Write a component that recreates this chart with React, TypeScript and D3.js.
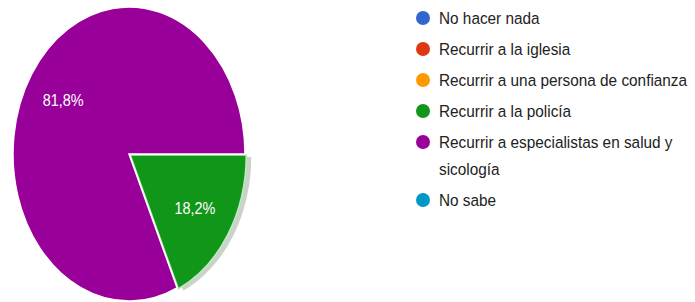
import * as d3 from "d3";
import { useEffect, useRef } from "react";

const categories = [
  "No hacer nada",
  "Recurrir a la iglesia",
  "Recurrir a una persona de confianza",
  "Recurrir a la policía",
  "Recurrir a especialistas en salud y sicología",
  "No sabe",
];
const values = [0, 0, 0, 18.2, 81.8, 0];
const colors = ["#3366cc", "#dc3912", "#ff9900", "#109618", "#990099", "#0099c6"];
// legend lines as they wrap in the picture
const legendLines = [
  ["No hacer nada"],
  ["Recurrir a la iglesia"],
  ["Recurrir a una persona de confianza"],
  ["Recurrir a la policía"],
  ["Recurrir a especialistas en salud y", "sicología"],
  ["No sabe"],
];

const W = 695,
  H = 302;

export default function App() {
  const ref = useRef<SVGSVGElement>(null);

  useEffect(() => {
    if (!ref.current) return;
    const svg = d3.select(ref.current);
    svg.selectAll("*").remove();

    const cx = 129,
      cy = 154;
    const rx = 116,
      ry = 147;
    const pie = d3
      .pie<number>()
      .sort(null)
      .startAngle(Math.PI / 2)
      .endAngle(Math.PI / 2 + 2 * Math.PI)
      .value((d) => d);
    const arcs = pie(values);
    const arc = d3.arc<d3.PieArcDatum<number>>().innerRadius(0).outerRadius(rx);

    const g = svg
      .append("g")
      .attr("transform", `translate(${cx},${cy}) scale(1,${ry / rx})`);

    const explode = (d: d3.PieArcDatum<number>) => {
      if (d.index !== 3) return [0, 0];
      const a = (d.startAngle + d.endAngle) / 2;
      return [Math.sin(a) * 1.5, -Math.cos(a) * 1.5];
    };

    const shown = arcs.filter((d) => d.value > 0);

    // shadow under the exploded slice
    g.selectAll("path.shadow")
      .data(shown.filter((d) => d.index === 3))
      .enter()
      .append("path")
      .attr("class", "shadow")
      .attr("d", arc)
      .attr("transform", (d) => {
        const [x, y] = explode(d);
        return `translate(${x + 5},${y + 1.5})`;
      })
      .attr("fill", "#c9d3c9");

    g.selectAll("path.slice")
      .data(shown)
      .enter()
      .append("path")
      .attr("class", "slice")
      .attr("d", arc)
      .attr("transform", (d) => {
        const [x, y] = explode(d);
        return `translate(${x},${y})`;
      })
      .attr("fill", (d) => colors[d.index])
      .attr("stroke", (d) => (d.index === 3 ? "#bfe9bf" : "#ffffff"))
      .attr("stroke-width", 1.5)
      .attr("vector-effect", "non-scaling-stroke");

    // percent labels
    const labelArc = d3
      .arc<d3.PieArcDatum<number>>()
      .innerRadius(rx * 0.675)
      .outerRadius(rx * 0.675);
    svg
      .append("g")
      .selectAll("text")
      .data(shown)
      .enter()
      .append("text")
      .attr("transform", (d) => {
        const [lx, ly] = labelArc.centroid(d);
        return `translate(${cx + lx},${cy + ly * (ry / rx)}) scale(0.85,1)`;
      })
      .attr("text-anchor", "middle")
      .attr("dy", "0.36em")
      .attr("fill", "#ffffff")
      .attr("font-family", "Liberation Sans, Arial, sans-serif")
      .attr("font-size", 17)
      .text((d) => d.value.toFixed(1).replace(".", ",") + "%");

    // legend
    const legend = svg.append("g").attr("transform", "translate(423,0)");
    let y = 18;
    categories.forEach((c, i) => {
      const row = legend.append("g").attr("transform", `translate(0,${y})`);
      row.append("circle").attr("r", 7).attr("fill", colors[i]);
      const t = row
        .append("text")
        .attr("transform", "translate(16,0) scale(0.93,1)")
        .attr("fill", "#222222")
        .attr("font-family", "Liberation Sans, Arial, sans-serif")
        .attr("font-size", 16.5);
      legendLines[i].forEach((line, j) => {
        t.append("tspan")
          .attr("x", 0)
          .attr("y", j * 27)
          .attr("dy", "0.36em")
          .text(line);
      });
      y += 31 + (legendLines[i].length - 1) * 27;
    });
  }, []);

  return (
    <svg
      ref={ref}
      width={W}
      height={H}
      style={{ position: "absolute", left: 0, top: 0, background: "#ffffff" }}
    />
  );
}
